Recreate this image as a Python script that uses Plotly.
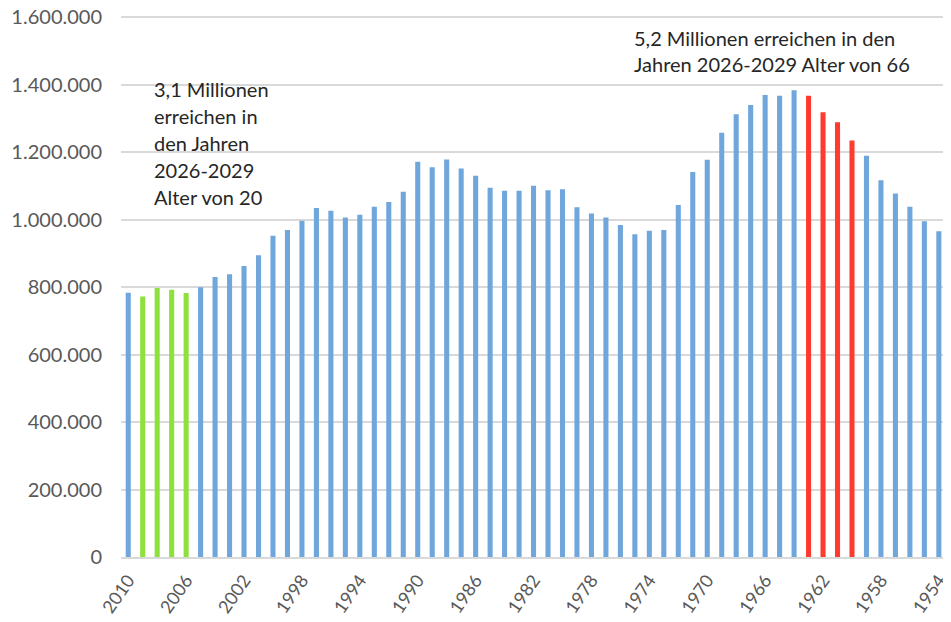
import plotly.graph_objects as go

years = [str(y) for y in range(2010, 1953, -1)]
births = [783000, 772000, 797000, 792000, 782000, 799000, 830000, 838000, 862000, 894000,
          952000, 969000, 996000, 1034000, 1026000, 1006000, 1014000, 1038000, 1052000, 1082000,
          1171000, 1155000, 1178000, 1151000, 1130000, 1094000, 1085000, 1085000, 1100000, 1087000,
          1090000, 1036000, 1018000, 1006000, 984000, 956000, 967000, 969000, 1043000, 1141000,
          1177000, 1257000, 1312000, 1339000, 1369000, 1367000, 1383000, 1367000, 1318000, 1288000,
          1234000, 1189000, 1116000, 1077000, 1038000, 995000, 965000]
green_years = ['2009', '2008', '2007', '2006']
red_years = ['1963', '1962', '1961', '1960']
tick_years = years[::4]

left_note = ['3,1 Millionen', 'erreichen in', 'den Jahren', '2026-2029', 'Alter von 20']
right_note = ['5,2 Millionen erreichen in den', 'Jahren 2026-2029 Alter von 66']

colors = []
for y in years:
    if y in green_years:
        colors.append('#8ee03c')
    elif y in red_years:
        colors.append('#ff3b2f')
    else:
        colors.append('#6fa6dc')

fig = go.Figure(go.Bar(x=years, y=births, marker_color=colors, marker_line_width=0))

# the page adds an 8px body margin, so the figure is made 8px smaller
OFF = 8
W, H = 951 - OFF, 622 - OFF
L, R, T, B = 121 - OFF, 0, 16 - OFF, 65
pw, ph = W - L - R, H - T - B

def px(x):
    return (x - OFF - L) / pw

def py(y):
    return (H - B - (y - OFF)) / ph

# white box behind the left note (hides the gridlines)
fig.add_shape(type='rect', xref='paper', yref='paper', layer='below',
              x0=px(138), x1=px(307), y0=py(212), y1=py(70),
              fillcolor='white', line_width=0)

font = dict(family='Lato, Open Sans, sans-serif', size=20, color='#262626')
for i, line in enumerate(left_note):
    fig.add_annotation(text=line, xref='paper', yref='paper', x=px(152), y=py(89 + 27 * i),
                       xanchor='left', yanchor='middle', showarrow=False, font=font)
for i, line in enumerate(right_note):
    fig.add_annotation(text=line, xref='paper', yref='paper', x=px(632), y=py(38 + 25.5 * i),
                       xanchor='left', yanchor='middle', showarrow=False, font=font)

fig.update_layout(
    width=W, height=H,
    margin=dict(l=L, r=R, t=T, b=B, autoexpand=False),
    paper_bgcolor='white', plot_bgcolor='white',
    separators=',.',
    bargap=0.65,
    showlegend=False,
    font=dict(family='Lato, Open Sans, sans-serif', size=20, color='#595959'),
)
fig.update_xaxes(type='category', tickmode='array', tickvals=tick_years, ticktext=tick_years,
                 tickangle=-55, range=[-0.5, 56.84], showgrid=False, automargin=False,
                 tickfont=dict(size=18), ticklabeloverflow='allow',
                 showline=True, linecolor='#d9d9d9', linewidth=1.5, ticklabelstandoff=4)
fig.update_yaxes(range=[0, 1603000], dtick=200000, tickformat=',d', showgrid=True,
                 automargin=False, ticklabeloverflow='allow',
                 gridcolor='#d9d9d9', gridwidth=1.5, zeroline=False, ticklabelstandoff=18)

fig.write_html('out.html')
